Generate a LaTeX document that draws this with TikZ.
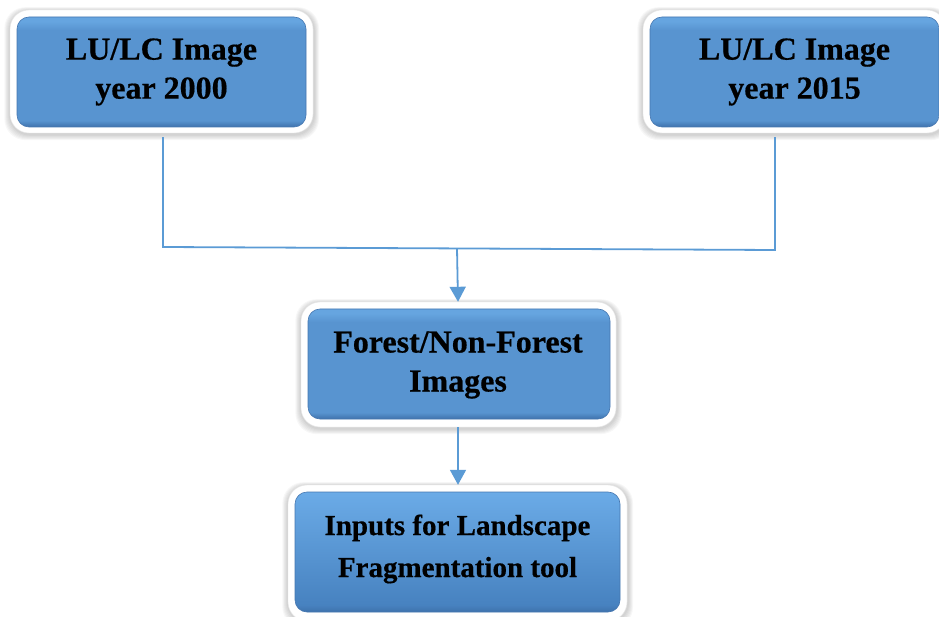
\documentclass[tikz,border=0pt]{standalone}
\usepackage{fontspec}
\setmainfont{Liberation Serif}[BoldFeatures={FakeBold=0.5}]
\usetikzlibrary{arrows.meta,calc,backgrounds}

\definecolor{linkblue}{HTML}{5B9BD5}
\definecolor{plateflat}{HTML}{5894D0}
\definecolor{platebright}{HTML}{66A5E0}
\definecolor{platerim}{HTML}{3F72AC}
\definecolor{fadetop}{HTML}{6BABE7}
\definecolor{fadebot}{HTML}{4782C0}
\definecolor{boxedge}{HTML}{4677B0}

% flat tone with a light top band and a dark lower rim
\pgfdeclareverticalshading{flatplate}{100bp}{%
  color(0bp)=(platerim); color(25bp)=(platerim); color(28bp)=(plateflat);
  color(69bp)=(plateflat); color(73bp)=(platebright); color(100bp)=(platebright)}
% top-to-bottom fade with the same dark rim
\pgfdeclareverticalshading{fadeplate}{100bp}{%
  color(0bp)=(platerim); color(25bp)=(platerim); color(28bp)=(fadebot);
  color(75bp)=(fadetop); color(100bp)=(fadetop)}

\tikzset{
  frame/.style={rectangle, rounded corners=19pt, fill=white, draw=black!10,
    line width=0.4pt, inner sep=0pt},
  plate/.style={rectangle, rounded corners=12pt, draw=boxedge, line width=0.6pt,
    shading=flatplate, inner sep=0pt},
  fadedplate/.style={plate, shading=fadeplate},
  caption/.style={align=center, inner sep=0pt, text=black,
    font=\bfseries\fontsize{32}{39}\selectfont},
  smallcaption/.style={caption, font=\bfseries\fontsize{29}{42}\selectfont},
  link/.style={draw=linkblue, line width=1.8pt},
  arrow/.style={link, -{Triangle[width=16pt,length=15pt]}},
}

% soft grey halo round a framed box, drawn on the background layer
\newcommand\boxhalo[1]{%
  \foreach \k in {1,...,6}{%
    \fill[black, opacity=0.03, rounded corners=21pt]
      ($(#1.south west)+(-0.9*\k,0.9*\k+1.5)$) rectangle
      ($(#1.north east)+(0.8*\k+1,-0.6*\k+1)$);}}

\begin{document}
\begin{tikzpicture}[x=1pt,y=-1pt]
  \useasboundingbox (0,0) rectangle (939,617);
  \clip (0,0) rectangle (939,617);

  % top left: LU/LC 2000
  \node[frame, minimum width=303pt, minimum height=123pt] (lu2000) at (161.5,71.5) {};
  \node[plate, minimum width=289pt, minimum height=110pt] (lu2000-plate) at (161.5,72) {};
  \node[caption] (lu2000-text) at (161.5,72) {LU/LC Image\\year 2000};

  % top right: LU/LC 2015
  \node[frame, minimum width=303pt, minimum height=123pt] (lu2015) at (794.5,71.5) {};
  \node[plate, minimum width=289pt, minimum height=110pt] (lu2015-plate) at (794.5,72) {};
  \node[caption] (lu2015-text) at (794.5,72) {LU/LC Image\\year 2015};

  % middle: forest / non-forest
  \node[frame, minimum width=315pt, minimum height=125pt] (forest) at (458.5,364.5) {};
  \node[plate, minimum width=302pt, minimum height=110pt] (forest-plate) at (459,364) {};
  \node[caption] (forest-text) at (458,365) {Forest/Non-Forest\\Images};

  % bottom: fragmentation inputs
  \node[frame, minimum width=339pt, minimum height=136pt] (inputs) at (457.5,553) {};
  \node[fadedplate, minimum width=325pt, minimum height=120pt] (inputs-plate) at (457.5,552) {};
  \node[smallcaption] (inputs-text) at (457.5,549) {Inputs for Landscape\\Fragmentation tool};

  \begin{pgfonlayer}{background}
    \boxhalo{lu2000}
    \boxhalo{lu2015}
    \boxhalo{forest}
    \boxhalo{inputs}
  \end{pgfonlayer}

  % joining lines
  \coordinate (joinL) at (163,247);
  \coordinate (joinR) at (775,250);
  \coordinate (joinM) at (457,248.5);

  \draw[link] ($(lu2000.south -| joinL)+(0,4)$) -- (joinL) -- (joinR)
              -- ($(lu2015.south -| joinR)+(0,4)$);
  \draw[arrow] (joinM) -- (forest.north -| 458,0);
  \draw[arrow] (forest.south -| 458,0) -- (inputs.north -| 458,0);
\end{tikzpicture}
\end{document}
